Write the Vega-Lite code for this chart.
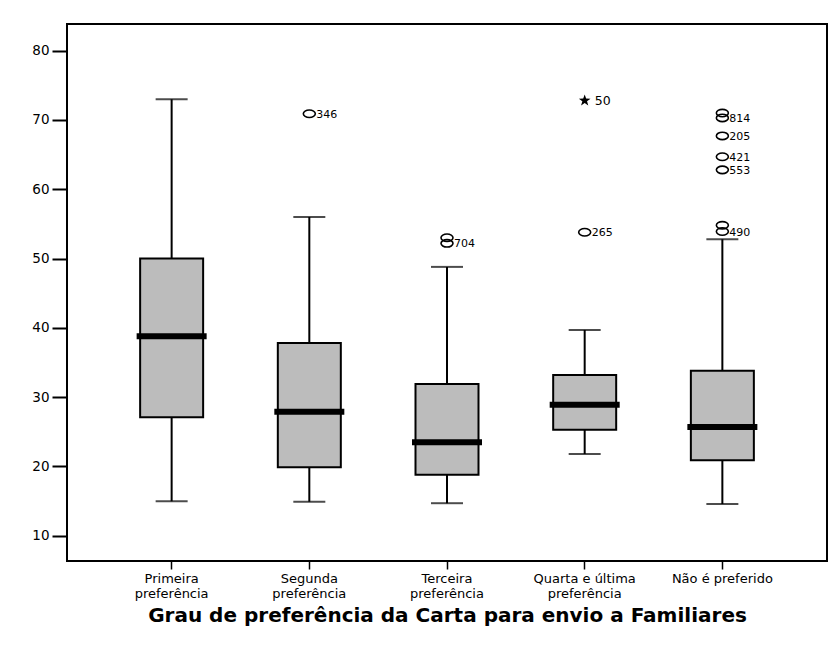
{
  "$schema": "https://vega.github.io/schema/vega-lite/v6.json",
  "width": 760,
  "height": 537,
  "autosize": {"type": "none"},
  "padding": {"left": 67, "top": 24, "right": 7, "bottom": 88},
  "background": "white",
  "config": {
    "font": "Liberation Sans",
    "view": {"stroke": "black", "strokeWidth": 2}
  },
  "datasets": {
    "boxes": [
      {"grupo": "Primeira preferência", "lo": 15, "q1": 27.1, "med": 38.8, "q3": 50, "hi": 73},
      {"grupo": "Segunda preferência", "lo": 14.9, "q1": 19.9, "med": 27.9, "q3": 37.8, "hi": 56},
      {"grupo": "Terceira preferência", "lo": 14.7, "q1": 18.8, "med": 23.5, "q3": 31.9, "hi": 48.8},
      {"grupo": "Quarta e última preferência", "lo": 21.8, "q1": 25.3, "med": 28.9, "q3": 33.2, "hi": 39.7},
      {"grupo": "Não é preferido", "lo": 14.6, "q1": 20.9, "med": 25.7, "q3": 33.8, "hi": 52.8}
    ],
    "outliers": [
      {"grupo": "Segunda preferência", "valor": 70.9, "caso": "346", "tipo": "circle"},
      {"grupo": "Terceira preferência", "valor": 53, "caso": "", "tipo": "circle"},
      {"grupo": "Terceira preferência", "valor": 52.2, "caso": "704", "tipo": "circle"},
      {"grupo": "Quarta e última preferência", "valor": 72.8, "caso": "50", "tipo": "star"},
      {"grupo": "Quarta e última preferência", "valor": 53.8, "caso": "265", "tipo": "circle"},
      {"grupo": "Não é preferido", "valor": 71, "caso": "", "tipo": "circle"},
      {"grupo": "Não é preferido", "valor": 70.3, "caso": "814", "tipo": "circle"},
      {"grupo": "Não é preferido", "valor": 67.7, "caso": "205", "tipo": "circle"},
      {"grupo": "Não é preferido", "valor": 64.7, "caso": "421", "tipo": "circle"},
      {"grupo": "Não é preferido", "valor": 62.8, "caso": "553", "tipo": "circle"},
      {"grupo": "Não é preferido", "valor": 54.8, "caso": "", "tipo": "circle"},
      {"grupo": "Não é preferido", "valor": 53.9, "caso": "490", "tipo": "circle"}
    ]
  },
  "encoding": {
    "x": {
      "field": "grupo",
      "type": "nominal",
      "sort": ["Primeira preferência", "Segunda preferência", "Terceira preferência", "Quarta e última preferência", "Não é preferido"],
      "scale": {"paddingInner": 0, "paddingOuter": 0.26},
      "axis": {
        "title": "Grau de preferência da Carta para envio a Familiares",
        "titleFont": "DejaVu Sans",
        "titleFontSize": 20,
        "titleFontWeight": "bold",
        "titleColor": "black",
        "titlePadding": 5,
        "labelAngle": 0,
        "labelFont": "DejaVu Sans",
        "labelFontSize": 13,
        "labelColor": "black",
        "labelPadding": 3,
        "labelLineHeight": 15,
        "labelExpr": "datum.value == 'Não é preferido' ? datum.value : [replace(datum.value, ' preferência', ''), 'preferência']",
        "tickSize": 8,
        "tickWidth": 1.5,
        "tickColor": "black",
        "domain": false,
        "grid": false
      }
    }
  },
  "layer": [
    {
      "data": {"name": "boxes"},
      "mark": {"type": "rule", "stroke": "black", "strokeWidth": 2},
      "encoding": {
        "y": {"field": "lo", "type": "quantitative", "scale": {"domain": [6.36, 83.85], "nice": false, "zero": false},
          "axis": {"title": null, "values": [10, 20, 30, 40, 50, 60, 70, 80], "tickSize": 15, "tickWidth": 2, "tickColor": "black", "labelFont": "DejaVu Sans", "labelFontSize": 13.5, "labelColor": "black", "labelPadding": 3, "domain": false, "grid": false}},
        "y2": {"field": "hi"}
      }
    },
    {
      "data": {"name": "boxes"},
      "mark": {"type": "tick", "color": "black", "size": 32, "thickness": 2},
      "encoding": {"y": {"field": "lo", "type": "quantitative"}}
    },
    {
      "data": {"name": "boxes"},
      "mark": {"type": "tick", "color": "black", "size": 32, "thickness": 2},
      "encoding": {"y": {"field": "hi", "type": "quantitative"}}
    },
    {
      "data": {"name": "boxes"},
      "mark": {"type": "bar", "size": 63, "fill": "#bcbcbc", "stroke": "black", "strokeWidth": 2},
      "encoding": {"y": {"field": "q1", "type": "quantitative"}, "y2": {"field": "q3"}}
    },
    {
      "data": {"name": "boxes"},
      "mark": {"type": "tick", "color": "black", "size": 70, "thickness": 6, "opacity": 1},
      "encoding": {"y": {"field": "med", "type": "quantitative"}}
    },
    {
      "data": {"name": "outliers"},
      "transform": [{"filter": "datum.tipo == 'circle'"}],
      "mark": {"type": "point", "filled": false, "stroke": "black", "strokeWidth": 1.6, "opacity": 1, "size": 144,
        "shape": "M-1,0A1,0.62 0 1,1 1,0A1,0.62 0 1,1 -1,0Z"},
      "encoding": {"y": {"field": "valor", "type": "quantitative"}}
    },
    {
      "data": {"name": "outliers"},
      "transform": [{"filter": "datum.tipo == 'star'"}],
      "mark": {"type": "point", "filled": true, "fill": "black", "opacity": 1, "size": 150,
        "shape": "M0,-1L0.235,-0.324L0.951,-0.309L0.38,0.124L0.588,0.809L0,0.4L-0.588,0.809L-0.38,0.124L-0.951,-0.309L-0.235,-0.324Z"},
      "encoding": {"y": {"field": "valor", "type": "quantitative"}}
    },
    {
      "data": {"name": "outliers"},
      "transform": [{"filter": "datum.caso != '' && datum.tipo == 'circle'"}],
      "mark": {"type": "text", "align": "left", "baseline": "middle", "dx": 7, "dy": 1, "font": "DejaVu Sans", "fontSize": 11, "color": "black"},
      "encoding": {"y": {"field": "valor", "type": "quantitative"}, "text": {"field": "caso"}}
    },
    {
      "data": {"name": "outliers"},
      "transform": [{"filter": "datum.tipo == 'star'"}],
      "mark": {"type": "text", "align": "left", "baseline": "middle", "dx": 10, "dy": 0, "font": "DejaVu Sans", "fontSize": 12.5, "color": "black"},
      "encoding": {"y": {"field": "valor", "type": "quantitative"}, "text": {"field": "caso"}}
    }
  ]
}
